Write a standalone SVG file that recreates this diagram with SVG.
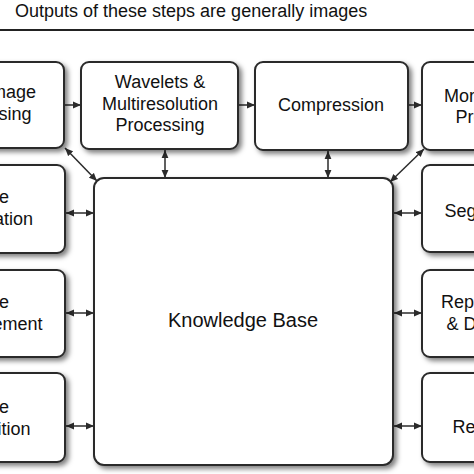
<svg xmlns="http://www.w3.org/2000/svg" width="474" height="474" viewBox="0 0 474 474">
<defs>
<filter id="sh" x="-10%" y="-10%" width="130%" height="130%">
<feDropShadow dx="3" dy="3" stdDeviation="2.5" flood-color="#000" flood-opacity="0.5"/>
</filter>
<marker id="ah" viewBox="0 0 8 8" refX="8" refY="4" markerWidth="8" markerHeight="8" markerUnits="userSpaceOnUse" orient="auto-start-reverse">
<path d="M0,0.6 L8,4 L0,7.4 Z" fill="#2b2b2b"/>
</marker>
<style>
.box{fill:#fff;stroke:#2b2b2b;stroke-width:2;filter:url(#sh)}
.t{font-family:"Liberation Sans",Arial,sans-serif;font-size:18px;fill:#111;text-anchor:middle}
.c{stroke:#2b2b2b;stroke-width:1.5;fill:none}
</style>
</defs>
<rect width="474" height="474" fill="#fff"/>
<text x="15" y="17" style="font-family:'Liberation Sans',Arial,sans-serif;font-size:18px;fill:#111">Outputs of these steps are generally images</text>
<line x1="0" y1="30" x2="474" y2="30" stroke="#222" stroke-width="1.8"/>

<g id="connectors">
<line class="c" x1="64" y1="105" x2="81" y2="105" marker-end="url(#ah)"/>
<line class="c" x1="238" y1="105" x2="255" y2="105" marker-end="url(#ah)"/>
<line class="c" x1="408" y1="105" x2="422" y2="105" marker-end="url(#ah)"/>
<line class="c" x1="165" y1="150" x2="165" y2="178" marker-start="url(#ah)" marker-end="url(#ah)"/>
<line class="c" x1="328" y1="151" x2="328" y2="178" marker-start="url(#ah)" marker-end="url(#ah)"/>
<line class="c" x1="65" y1="148" x2="97" y2="181" marker-start="url(#ah)" marker-end="url(#ah)"/>
<line class="c" x1="424" y1="149" x2="390" y2="182" marker-start="url(#ah)" marker-end="url(#ah)"/>
<line class="c" x1="66" y1="213" x2="94" y2="213" marker-start="url(#ah)" marker-end="url(#ah)"/>
<line class="c" x1="66" y1="313" x2="94" y2="313" marker-start="url(#ah)" marker-end="url(#ah)"/>
<line class="c" x1="66" y1="426" x2="94" y2="426" marker-start="url(#ah)" marker-end="url(#ah)"/>
<line class="c" x1="394" y1="213" x2="422" y2="213" marker-start="url(#ah)" marker-end="url(#ah)"/>
<line class="c" x1="394" y1="313" x2="422" y2="313" marker-start="url(#ah)" marker-end="url(#ah)"/>
<line class="c" x1="394" y1="426" x2="422" y2="426" marker-start="url(#ah)" marker-end="url(#ah)"/>
</g>

<g id="color-image-processing">
<rect class="box" x="-91" y="62" width="155" height="86" rx="8"/>
<text class="t" x="-13" y="98">Color Image</text>
<text class="t" x="-13" y="120">Processing</text>
</g>
<g id="wavelets">
<rect class="box" x="81" y="62" width="157" height="87" rx="8"/>
<text class="t" x="160" y="88">Wavelets &amp;</text>
<text class="t" x="160" y="110">Multiresolution</text>
<text class="t" x="160" y="131">Processing</text>
</g>
<g id="compression">
<rect class="box" x="255" y="62" width="153" height="88" rx="8"/>
<text class="t" x="331" y="111">Compression</text>
</g>
<g id="morphological-processing">
<rect class="box" x="422" y="62" width="155" height="88" rx="8"/>
<text class="t" x="500" y="102">Morphological</text>
<text class="t" x="500" y="123">Processing</text>
</g>
<g id="image-restoration">
<rect class="box" x="-91" y="165" width="156" height="88" rx="8"/>
<text class="t" x="-16" y="203">Image</text>
<text class="t" x="-13" y="225">Restoration</text>
</g>
<g id="image-enhancement">
<rect class="box" x="-91" y="270" width="156" height="87" rx="8"/>
<text class="t" x="-16" y="308">Image</text>
<text class="t" x="-13" y="330">Enhancement</text>
</g>
<g id="image-acquisition">
<rect class="box" x="-91" y="373" width="156" height="89" rx="8"/>
<text class="t" x="-16" y="413">Image</text>
<text class="t" x="-13" y="435">Acquisition</text>
</g>
<g id="segmentation">
<rect class="box" x="422" y="165" width="155" height="87" rx="8"/>
<text class="t" x="500" y="217">Segmentation</text>
</g>
<g id="representation-description">
<rect class="box" x="422" y="270" width="155" height="87" rx="8"/>
<text class="t" x="502" y="308">Representation</text>
<text class="t" x="500" y="330">&amp; Description</text>
</g>
<g id="object-recognition">
<rect class="box" x="422" y="373" width="155" height="89" rx="8"/>
<text class="t" x="500" y="411">Object</text>
<text class="t" x="500" y="433">Recognition</text>
</g>
<g id="knowledge-base">
<rect class="box" x="94" y="178" width="299" height="287" rx="10"/>
<text class="t" x="243" y="327" style="font-size:20px">Knowledge Base</text>
</g>
</svg>
